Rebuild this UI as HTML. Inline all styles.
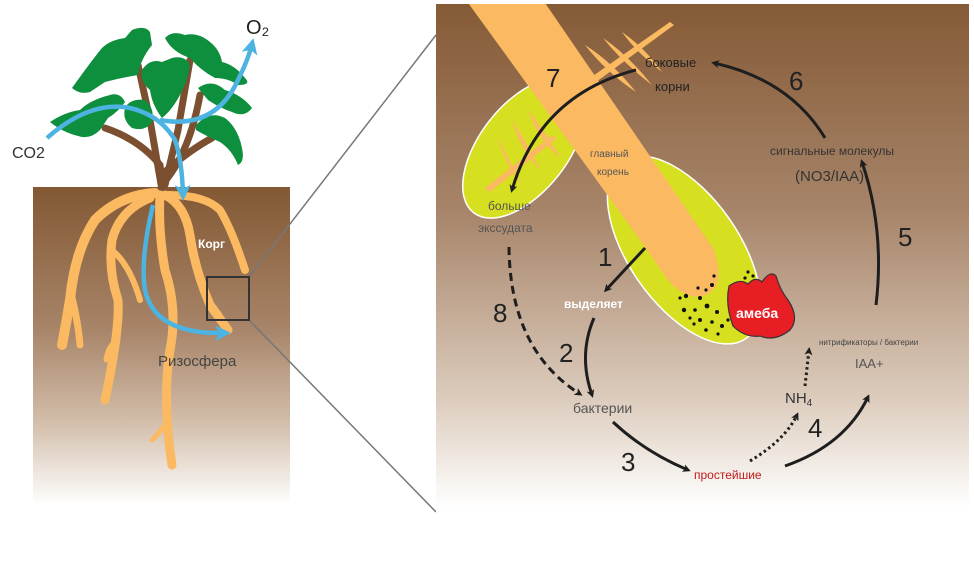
<!DOCTYPE html>
<html><head><meta charset="utf-8"><style>
html,body{margin:0;padding:0;background:#fff}
svg{display:block}
text{font-family:"Liberation Sans","DejaVu Sans",sans-serif}
</style></head><body>
<svg width="974" height="573" viewBox="0 0 974 573" xmlns="http://www.w3.org/2000/svg">
<defs>
<linearGradient id="soil" x1="0" y1="0" x2="0" y2="1">
<stop offset="0" stop-color="#835833"/>
<stop offset="0.45" stop-color="#a88569"/>
<stop offset="0.75" stop-color="#d4c0ad"/>
<stop offset="1" stop-color="#ffffff"/>
</linearGradient>
<linearGradient id="soilR" x1="0" y1="0" x2="0" y2="1">
<stop offset="0" stop-color="#855a36"/>
<stop offset="0.4" stop-color="#a8866b"/>
<stop offset="0.75" stop-color="#ddcdbe"/>
<stop offset="0.95" stop-color="#ffffff"/>
<stop offset="1" stop-color="#ffffff"/>
</linearGradient>
<clipPath id="cr"><rect x="436" y="4" width="533" height="530"/></clipPath>
<marker id="ah" markerWidth="8" markerHeight="8" refX="5" refY="4" orient="auto" markerUnits="userSpaceOnUse" viewBox="0 0 8 8"><path d="M0,0 L8,4 L0,8 L2,4z" fill="#1e1e1e"/></marker>
<marker id="ahb" markerWidth="16" markerHeight="16" refX="10" refY="8" orient="auto" markerUnits="userSpaceOnUse"><path d="M0,0 L16,8 L0,16 L4,8z" fill="#4db3e0"/></marker>
</defs>

<rect x="33" y="187" width="257" height="318" fill="url(#soil)"/>
<line x1="249" y1="277" x2="436" y2="35" stroke="#777" stroke-width="1.5"/>
<line x1="249" y1="320" x2="436" y2="512" stroke="#777" stroke-width="1.5"/>

<!-- stems -->
<g stroke="#7b4f2f" stroke-width="7" fill="none" stroke-linecap="round">
<path d="M163,190 L160,165 Q140,140 105,128"/>
<path d="M162,190 L150,120 L138,65"/>
<path d="M165,185 L178,130 L190,60"/>
<path d="M166,180 Q190,150 200,95"/>
<path d="M167,170 Q190,150 212,138"/>
</g>
<!-- leaves -->
<g fill="#0e8f3e">
<path d="M72,88 Q92,60 102,48 Q110,40 125,38 L132,30 Q145,25 150,32 L152,45 Q140,60 138,75 Q120,78 105,82 L90,92 Q80,95 72,88 Z"/>
<path d="M50,122 Q65,112 80,110 Q90,100 110,95 Q120,92 125,102 Q118,112 108,118 L100,130 Q90,140 78,136 Q62,132 50,122 Z"/>
<path d="M125,108 Q130,98 145,100 Q155,108 152,122 Q145,132 132,128 Q122,120 125,108 Z"/>
<path d="M142,70 Q150,58 162,62 L172,58 Q185,55 190,65 Q188,80 180,95 Q172,110 162,118 Q152,105 150,90 Q140,82 142,70 Z"/>
<path d="M165,38 Q172,30 185,35 Q198,32 210,42 Q220,50 222,62 Q235,65 245,78 Q252,85 238,85 Q228,78 215,78 Q200,70 190,58 Q172,52 165,38 Z"/>
<path d="M198,88 Q212,78 225,90 Q242,95 252,108 Q245,118 232,112 Q220,108 208,100 Z"/>
<path d="M196,125 Q210,110 225,118 Q238,128 242,148 Q245,162 238,165 Q232,150 220,142 Q206,136 196,130 Z"/>
</g>
<!-- roots -->
<g stroke="#fbb962" fill="none" stroke-linecap="round" stroke-linejoin="round">
<path d="M155,193 Q120,195 95,220 Q75,250 70,300 Q65,330 62,345" stroke-width="10"/>
<path d="M70,290 Q78,320 80,345" stroke-width="7"/>
<path d="M150,198 Q120,210 112,240 Q108,270 118,300 Q120,330 105,400" stroke-width="9"/>
<path d="M112,250 Q130,265 140,300" stroke-width="6"/>
<path d="M118,340 Q108,345 106,360" stroke-width="5"/>
<path d="M160,195 Q158,230 165,270 Q178,310 170,350 Q162,400 172,465" stroke-width="9"/>
<path d="M168,420 Q158,435 152,440" stroke-width="5"/>
<path d="M165,195 Q185,205 190,235 Q195,270 210,305 L228,330" stroke-width="9"/>
<path d="M168,195 Q205,195 220,210 Q232,230 245,270" stroke-width="8"/>
<path d="M205,295 L220,315" stroke-width="5"/>
</g>
<g stroke="#4db3e0" stroke-width="4.5" fill="none">
<path d="M47,138 Q90,100 130,108 Q160,115 175,140 Q182,160 183,195" marker-end="url(#ahb)"/>
<path d="M160,120 Q215,130 238,80 Q248,60 252,44" marker-end="url(#ahb)"/>
<path d="M153,205 Q140,260 145,290 Q155,335 225,333" marker-end="url(#ahb)"/>
</g>
<rect x="207" y="277" width="42" height="43" fill="none" stroke="#333" stroke-width="2"/>
<text x="12" y="158" font-size="16" fill="#333">CO2</text>
<text x="246" y="34" font-size="20" fill="#222">O₂</text>
<text x="198" y="248" font-size="12" fill="#fff" font-weight="bold">Корг</text>
<text x="158" y="366" font-size="15" fill="#444">Ризосфера</text>

<!-- right panel -->
<rect x="436" y="4" width="533" height="530" fill="url(#soilR)"/>
<g clip-path="url(#cr)">
<ellipse cx="524" cy="148" rx="82" ry="44" transform="rotate(-52 524 148)" fill="#d6e021" stroke="#fff" stroke-width="1.5"/>
<ellipse cx="684" cy="250" rx="108" ry="55" transform="rotate(55 684 250)" fill="#d6e021" stroke="#fff" stroke-width="1.5"/>
<path d="M466,0 L543,0 L713,248 Q728,288 703,296 Q685,300 668,280 L640,240 Z" fill="#fbb962"/>
<g fill="#fbb962">
<path d="M585,45 Q612,62 636,92 Q606,72 585,45Z"/>
<path d="M603,38 Q628,55 652,85 Q622,62 603,38Z"/>
<path d="M622,32 Q645,48 662,72 Q636,52 622,32Z"/>
<path d="M590,78 L670,22 L674,25 L596,82Z"/>
<path d="M485,188 L552,135 L556,139 L490,192Z"/>
<path d="M498,138 Q512,165 522,185 Q505,165 498,138Z"/>
<path d="M512,120 Q530,148 540,170 Q520,150 512,120Z"/>
<path d="M528,110 Q548,135 560,158 Q538,140 528,110Z"/>
</g>
<g fill="#111">
<circle cx="686" cy="296" r="2.2"/><circle cx="700" cy="298" r="2"/><circle cx="712" cy="285" r="2"/><circle cx="706" cy="290" r="1.6"/><circle cx="698" cy="288" r="1.6"/>
<circle cx="680" cy="298" r="1.6"/><circle cx="684" cy="310" r="2.2"/><circle cx="695" cy="310" r="1.8"/><circle cx="707" cy="306" r="2.4"/><circle cx="717" cy="312" r="2"/>
<circle cx="700" cy="320" r="2"/><circle cx="712" cy="322" r="1.8"/><circle cx="722" cy="326" r="2"/><circle cx="694" cy="324" r="1.6"/><circle cx="706" cy="330" r="1.8"/>
<circle cx="718" cy="334" r="1.6"/><circle cx="728" cy="320" r="1.6"/><circle cx="690" cy="318" r="1.6"/><circle cx="748" cy="272" r="1.6"/><circle cx="753" cy="276" r="1.6"/><circle cx="745" cy="278" r="1.6"/><circle cx="714" cy="276" r="1.6"/>
</g>
<path d="M729,286 Q740,278 748,284 Q755,276 762,282 Q770,270 776,276 Q780,290 788,300 Q800,318 790,330 Q775,342 760,336 Q745,338 733,326 Q725,305 729,286Z" fill="#e81e25" stroke="#333" stroke-width="1.2"/>
</g>
<text x="736" y="318" font-size="14" fill="#fff" font-weight="bold">амеба</text>

<g stroke="#1e1e1e" stroke-width="3" fill="none">
<path d="M636,70 Q540,95 512,190" marker-end="url(#ah)"/>
<path d="M825,138 Q790,80 714,63" marker-end="url(#ah)"/>
<path d="M876,305 Q885,230 862,162" marker-end="url(#ah)"/>
<path d="M645,248 L606,290" marker-end="url(#ah)"/>
<path d="M594,318 Q578,355 592,395" marker-end="url(#ah)"/>
<path d="M509,247 Q510,350 580,394" stroke-dasharray="8,5" marker-end="url(#ah)"/>
<path d="M613,422 Q645,452 688,470" marker-end="url(#ah)"/>
<path d="M785,466 Q845,445 868,397" marker-end="url(#ah)"/>
<path d="M750,461 Q785,440 797,415" stroke-dasharray="2.5,3" marker-end="url(#ah)"/>
<path d="M805,386 L809,350" stroke-dasharray="2.5,3" marker-end="url(#ah)"/>
</g>

<g fill="#222" font-size="26">
<text x="546" y="87">7</text>
<text x="789" y="90">6</text>
<text x="898" y="246">5</text>
<text x="598" y="266">1</text>
<text x="559" y="362">2</text>
<text x="493" y="322">8</text>
<text x="621" y="471">3</text>
<text x="808" y="437">4</text>
</g>
<text x="645" y="67" font-size="13" fill="#222">боковые</text>
<text x="655" y="91" font-size="13" fill="#222">корни</text>
<text x="590" y="157" font-size="10" fill="#555">главный</text>
<text x="597" y="175" font-size="10" fill="#555">корень</text>
<text x="488" y="210" font-size="12" fill="#555">больше</text>
<text x="478" y="232" font-size="12" fill="#555">экссудата</text>
<text x="564" y="308" font-size="12" fill="#fff" font-weight="bold">выделяет</text>
<text x="573" y="413" font-size="14" fill="#555">бактерии</text>
<text x="694" y="479" font-size="12" fill="#c41a1a">простейшие</text>
<text x="785" y="403" font-size="15" fill="#333">NH<tspan font-size="10" dy="3">4</tspan></text>
<text x="819" y="345" font-size="8" fill="#444">нитрификаторы / бактерии</text>
<text x="855" y="368" font-size="13" fill="#555">IAA+</text>
<text x="770" y="155" font-size="12" fill="#333">сигнальные молекулы</text>
<text x="795" y="181" font-size="15" fill="#333">(NO3/IAA)</text>
</svg>
</body></html>
